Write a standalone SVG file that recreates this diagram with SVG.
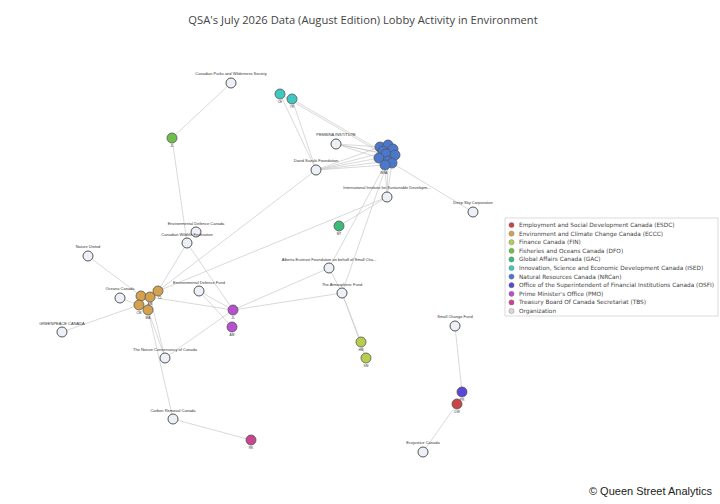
<svg xmlns="http://www.w3.org/2000/svg" width="720" height="504" viewBox="0 0 720 504">
<style>
.e{stroke:#c8c8c8;stroke-width:0.7;fill:none}
.org{fill:#edf1f7;stroke:#555;stroke-width:1}
.dep{stroke:#555;stroke-width:0.8}
.lb{font-family:"Liberation Sans",Arial,sans-serif;font-size:4px;fill:#333;text-anchor:middle}
.sl{font-family:"Liberation Sans",Arial,sans-serif;font-size:3.2px;fill:#333;text-anchor:middle}
.lg{font-family:"DejaVu Sans",Verdana,sans-serif;font-size:5.8px;fill:#444}
.esdc{fill:#c94545}.eccc{fill:#d4a24c}.fin{fill:#b7cd4e}.dfo{fill:#6cc04a}.gac{fill:#3dba78}.ised{fill:#3ec8c0}.nrcan{fill:#4a78cf}.osfi{fill:#5a47d6}.pmo{fill:#b64fd0}.tbs{fill:#c9468e}.orgc{fill:#d9d9d9}
</style>
<rect width="720" height="504" fill="#fff"/>
<text x="363" y="24" font-family="'Open Sans','Liberation Sans',sans-serif" font-size="11.2" fill="#444" text-anchor="middle">QSA's July 2026 Data (August Edition) Lobby Activity in Environment</text>
<g id="connectors">
<line class="e" x1="231" y1="83" x2="172" y2="138"/>
<line class="e" x1="172" y1="138" x2="187" y2="243"/>
<line class="e" x1="280" y1="94" x2="316" y2="170"/>
<line class="e" x1="292" y1="99" x2="316" y2="170"/>
<line class="e" x1="280" y1="94" x2="381" y2="153"/>
<line class="e" x1="292" y1="99" x2="386" y2="154"/>
<line class="e" x1="336" y1="144" x2="380" y2="147"/>
<line class="e" x1="336" y1="144" x2="381" y2="153"/>
<line class="e" x1="336" y1="144" x2="379" y2="158"/>
<line class="e" x1="336" y1="144" x2="386" y2="154"/>
<line class="e" x1="316" y1="170" x2="380" y2="147"/>
<line class="e" x1="316" y1="170" x2="381" y2="153"/>
<line class="e" x1="316" y1="170" x2="379" y2="158"/>
<line class="e" x1="316" y1="170" x2="385" y2="165"/>
<line class="e" x1="316" y1="170" x2="388" y2="161"/>
<line class="e" x1="316" y1="170" x2="158" y2="291"/>
<line class="e" x1="385" y1="165" x2="387" y2="197"/>
<line class="e" x1="388" y1="161" x2="387" y2="197"/>
<line class="e" x1="392" y1="163" x2="387" y2="197"/>
<line class="e" x1="385" y1="165" x2="329" y2="268"/>
<line class="e" x1="388" y1="161" x2="342" y2="293"/>
<line class="e" x1="392" y1="163" x2="473" y2="212"/>
<line class="e" x1="387" y1="197" x2="339" y2="226"/>
<line class="e" x1="387" y1="197" x2="158" y2="291"/>
<line class="e" x1="187" y1="243" x2="158" y2="291"/>
<line class="e" x1="187" y1="243" x2="233" y2="310"/>
<line class="e" x1="88" y1="256" x2="141" y2="296"/>
<line class="e" x1="120" y1="298" x2="139" y2="305"/>
<line class="e" x1="62" y1="332" x2="139" y2="305"/>
<line class="e" x1="150" y1="297" x2="233" y2="310"/>
<line class="e" x1="199" y1="291" x2="233" y2="310"/>
<line class="e" x1="199" y1="291" x2="232" y2="327"/>
<line class="e" x1="233" y1="310" x2="342" y2="293"/>
<line class="e" x1="233" y1="310" x2="329" y2="268"/>
<line class="e" x1="165" y1="358" x2="233" y2="310"/>
<line class="e" x1="148" y1="310" x2="165" y2="358"/>
<line class="e" x1="150" y1="297" x2="165" y2="358"/>
<line class="e" x1="148" y1="310" x2="173" y2="419"/>
<line class="e" x1="173" y1="419" x2="251" y2="440"/>
<line class="e" x1="329" y1="268" x2="342" y2="293"/>
<line class="e" x1="342" y1="293" x2="361" y2="342"/>
<line class="e" x1="342" y1="293" x2="366" y2="358"/>
<line class="e" x1="455" y1="326" x2="462" y2="392"/>
<line class="e" x1="457" y1="404" x2="423" y2="452"/>
</g>
<g id="n-cpaws"><circle class="org" cx="231" cy="83" r="5"/><text class="lb" x="231" y="75">Canadian Parks and Wilderness Society</text></g>
<g id="n-pembina"><circle class="org" cx="336" cy="144" r="5"/><text class="lb" x="336" y="136">PEMBINA INSTITUTE</text></g>
<g id="n-dsf"><circle class="org" cx="316" cy="170" r="5"/><text class="lb" x="316" y="162">David Suzuki Foundation</text></g>
<g id="n-iisd"><circle class="org" cx="387" cy="197" r="5"/><text class="lb" x="387" y="189">International Institute for Sustainable Developm...</text></g>
<g id="n-deepsky"><circle class="org" cx="473" cy="212" r="5"/><text class="lb" x="473" y="204">Deep Sky Corporation</text></g>
<g id="n-edc"><circle class="org" cx="196" cy="232" r="5"/><text class="lb" x="196" y="225">Environmental Defence Canada</text></g>
<g id="n-cwf"><circle class="org" cx="187" cy="243" r="5"/><text class="lb" x="187" y="236">Canadian Wildlife Federation</text></g>
<g id="n-nu"><circle class="org" cx="88" cy="256" r="5"/><text class="lb" x="88" y="248">Nature United</text></g>
<g id="n-oceana"><circle class="org" cx="120" cy="298" r="5"/><text class="lb" x="120" y="290">Oceana Canada</text></g>
<g id="n-edf"><circle class="org" cx="199" cy="291" r="5"/><text class="lb" x="199" y="284">Environmental Defence Fund</text></g>
<g id="n-gp"><circle class="org" cx="62" cy="332" r="5"/><text class="lb" x="62" y="325">GREENPEACE CANADA</text></g>
<g id="n-aef"><circle class="org" cx="329" cy="268" r="5"/><text class="lb" x="329" y="261">Alberta Ecotrust Foundation on behalf of Small Cha...</text></g>
<g id="n-taf"><circle class="org" cx="342" cy="293" r="5"/><text class="lb" x="342" y="286">The Atmospheric Fund</text></g>
<g id="n-ncc"><circle class="org" cx="165" cy="358" r="5"/><text class="lb" x="165" y="351">The Nature Conservancy of Canada</text></g>
<g id="n-crc"><circle class="org" cx="173" cy="419" r="5"/><text class="lb" x="173" y="412">Carbon Removal Canada</text></g>
<g id="n-scf"><circle class="org" cx="455" cy="326" r="5"/><text class="lb" x="455" y="318">Small Change Fund</text></g>
<g id="n-eco"><circle class="org" cx="423" cy="452" r="5"/><text class="lb" x="423" y="444">Ecojustice Canada</text></g>
<g id="n-ised"><circle class="dep ised" cx="280" cy="94" r="5"/><text class="sl" x="280" y="103">CE</text><circle class="dep ised" cx="292" cy="99" r="5"/><text class="sl" x="292" y="108">YR</text></g>
<g id="n-dfo"><circle class="dep dfo" cx="172" cy="138" r="5"/><text class="sl" x="172" y="147">JL</text></g>
<g id="n-gac"><circle class="dep gac" cx="339" cy="226" r="5"/><text class="sl" x="339" y="235">MT</text></g>
<g id="n-nrcan">
<circle class="dep nrcan" cx="380" cy="147" r="5"/>
<circle class="dep nrcan" cx="388" cy="145" r="5"/>
<circle class="dep nrcan" cx="393" cy="149" r="5"/>
<circle class="dep nrcan" cx="383" cy="151" r="5"/>
<circle class="dep nrcan" cx="386" cy="154" r="5"/>
<circle class="dep nrcan" cx="395" cy="155" r="5"/>
<circle class="dep nrcan" cx="379" cy="158" r="5"/>
<circle class="dep nrcan" cx="388" cy="161" r="5"/>
<circle class="dep nrcan" cx="392" cy="163" r="5"/>
<circle class="dep nrcan" cx="385" cy="165" r="5"/>
<text class="sl" x="384" y="174">MSA</text></g>
<g id="n-eccc">
<circle class="dep eccc" cx="141" cy="296" r="5"/>
<circle class="dep eccc" cx="150" cy="297" r="5"/><text class="sl" x="150" y="305">AM</text>
<circle class="dep eccc" cx="158" cy="291" r="5"/><text class="sl" x="160" y="299">CL</text>
<circle class="dep eccc" cx="139" cy="305" r="5"/><text class="sl" x="139" y="314">CM</text>
<circle class="dep eccc" cx="148" cy="310" r="5"/><text class="sl" x="148" y="319">MA</text></g>
<g id="n-pmo"><circle class="dep pmo" cx="233" cy="310" r="5"/><text class="sl" x="233" y="319">JL</text><circle class="dep pmo" cx="232" cy="327" r="5"/><text class="sl" x="232" y="336">AM</text></g>
<g id="n-fin"><circle class="dep fin" cx="361" cy="342" r="5"/><text class="sl" x="361" y="351">HM</text><circle class="dep fin" cx="366" cy="358" r="5"/><text class="sl" x="366" y="367">SM</text></g>
<g id="n-tbs"><circle class="dep tbs" cx="251" cy="440" r="5"/><text class="sl" x="251" y="449">RK</text></g>
<g id="n-osfi"><circle class="dep osfi" cx="462" cy="392" r="5"/><text class="sl" x="462" y="401">PR</text></g>
<g id="n-esdc"><circle class="dep esdc" cx="457" cy="404" r="5"/><text class="sl" x="457" y="413">DW</text></g>
<g id="legend">
<rect x="505" y="218" width="213" height="98" fill="#fff" stroke="#ccc" stroke-width="0.7"/>
<circle class="esdc" cx="511.5" cy="225" r="2.6" stroke="#777" stroke-width="0.4"/><text class="lg" x="519" y="227">Employment and Social Development Canada (ESDC)</text>
<circle class="eccc" cx="511.5" cy="233.6" r="2.6" stroke="#777" stroke-width="0.4"/><text class="lg" x="519" y="235.6">Environment and Climate Change Canada (ECCC)</text>
<circle class="fin" cx="511.5" cy="242.2" r="2.6" stroke="#777" stroke-width="0.4"/><text class="lg" x="519" y="244.2">Finance Canada (FIN)</text>
<circle class="dfo" cx="511.5" cy="250.8" r="2.6" stroke="#777" stroke-width="0.4"/><text class="lg" x="519" y="252.8">Fisheries and Oceans Canada (DFO)</text>
<circle class="gac" cx="511.5" cy="259.4" r="2.6" stroke="#777" stroke-width="0.4"/><text class="lg" x="519" y="261.4">Global Affairs Canada (GAC)</text>
<circle class="ised" cx="511.5" cy="268" r="2.6" stroke="#777" stroke-width="0.4"/><text class="lg" x="519" y="270">Innovation, Science and Economic Development Canada (ISED)</text>
<circle class="nrcan" cx="511.5" cy="276.6" r="2.6" stroke="#777" stroke-width="0.4"/><text class="lg" x="519" y="278.6">Natural Resources Canada (NRCan)</text>
<circle class="osfi" cx="511.5" cy="285.2" r="2.6" stroke="#777" stroke-width="0.4"/><text class="lg" x="519" y="287.2">Office of the Superintendent of Financial Institutions Canada (OSFI)</text>
<circle class="pmo" cx="511.5" cy="293.8" r="2.6" stroke="#777" stroke-width="0.4"/><text class="lg" x="519" y="295.8">Prime Minister's Office (PMO)</text>
<circle class="tbs" cx="511.5" cy="302.4" r="2.6" stroke="#777" stroke-width="0.4"/><text class="lg" x="519" y="304.4">Treasury Board Of Canada Secretariat (TBS)</text>
<circle class="orgc" cx="511.5" cy="311" r="2.6" stroke="#777" stroke-width="0.4"/><text class="lg" x="519" y="313">Organization</text>
</g>
<text x="712" y="495" font-family="'Liberation Sans',Arial,sans-serif" font-size="11" fill="#222" text-anchor="end">© Queen Street Analytics</text>
</svg>
